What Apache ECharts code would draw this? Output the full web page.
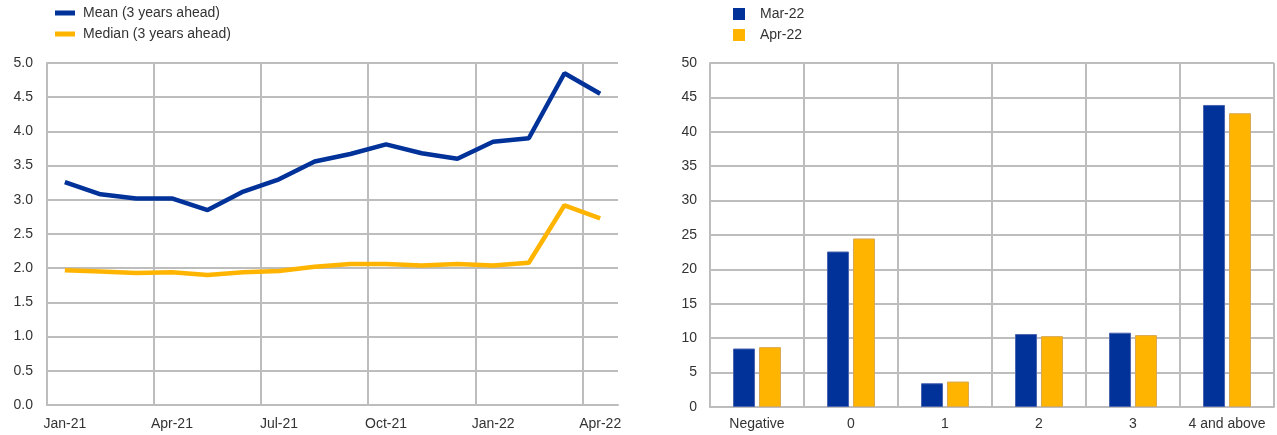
<!DOCTYPE html>
<html>
  <head>
    <meta charset="utf-8">
    <title>ECharts</title>
    <style type="text/css">
    html,body{margin:0;padding:0;background:#fff;}
    #main{width:1277px;height:435px;}
    </style>
    <script src="https://cdn.jsdelivr.net/npm/echarts@6/dist/echarts.min.js"></script>
  </head>
  <body>
    <div id="main"></div>
    <script type="text/javascript">
      // left panel: monthly expectations
      var months = ['Jan-21','Feb-21','Mar-21','Apr-21','May-21','Jun-21','Jul-21','Aug-21',
                    'Sep-21','Oct-21','Nov-21','Dec-21','Jan-22','Feb-22','Mar-22','Apr-22'];
      var meanVals   = [3.26,3.08,3.02,3.02,2.85,3.12,3.30,3.56,3.67,3.81,3.68,3.60,3.85,3.90,4.85,4.55];
      var medianVals = [1.97,1.95,1.93,1.94,1.90,1.94,1.96,2.02,2.06,2.06,2.04,2.06,2.04,2.08,2.92,2.73];

      // right panel: distribution
      var buckets = ['Negative','0','1','2','3','4 and above'];
      var mar22 = [8.5,22.6,3.45,10.6,10.8,43.9];
      var apr22 = [8.7,24.5,3.7,10.3,10.45,42.7];

      var blue = '#003299', yellow = '#ffb400';
      var gridCol = '#bdbdbd';
      var txt = {color:'#333', fontSize:14, fontFamily:'Liberation Sans, Arial, sans-serif'};

      var chart = echarts.init(document.getElementById('main'));
      var option = {
        animation:false,
        textStyle:{fontFamily:'Liberation Sans, Arial, sans-serif'},
        legend:[
          {
            orient:'vertical', left:50, top:1, itemGap:7,
            icon:'rect', itemWidth:20, itemHeight:5,
            textStyle:{color:'#333', fontSize:14, padding:[0,0,0,3]},
            data:['Mean (3 years ahead)','Median (3 years ahead)']
          },
          {
            orient:'vertical', left:728, top:2, itemGap:7,
            icon:'rect', itemWidth:12, itemHeight:12,
            itemStyle:{borderWidth:0},
            textStyle:{color:'#333', fontSize:14, padding:[0,0,0,10]},
            data:['Mar-22','Apr-22']
          }
        ],
        grid:[
          {left:47, right:659, top:63, bottom:30},
          {left:710, right:3, top:63, bottom:28}
        ],
        xAxis:[
          {
            type:'category', gridIndex:0, data:months, boundaryGap:true,
            axisLine:{lineStyle:{color:gridCol, width:2}},
            axisTick:{show:false},
            axisLabel:Object.assign({interval:2, margin:12}, txt),
            splitLine:{show:true, interval:2, showMaxLine:false, lineStyle:{color:gridCol, width:2}}
          },
          {
            type:'category', gridIndex:1, data:buckets, boundaryGap:true,
            axisLine:{lineStyle:{color:gridCol, width:2}},
            axisTick:{show:false},
            axisLabel:Object.assign({interval:0, margin:10}, txt),
            splitLine:{show:true, interval:0, lineStyle:{color:gridCol, width:2}}
          }
        ],
        yAxis:[
          {
            type:'value', gridIndex:0, min:0, max:5, interval:0.5,
            axisLine:{show:true, lineStyle:{color:gridCol, width:2}},
            axisTick:{show:false},
            axisLabel:Object.assign({margin:14, formatter:function(v){return v.toFixed(1);}}, txt),
            splitLine:{lineStyle:{color:gridCol, width:2}}
          },
          {
            type:'value', gridIndex:1, min:0, max:50, interval:5,
            axisLine:{show:true, lineStyle:{color:gridCol, width:2}},
            axisTick:{show:false},
            axisLabel:Object.assign({margin:13}, txt),
            splitLine:{lineStyle:{color:gridCol, width:2}}
          }
        ],
        series:[
          {
            name:'Mean (3 years ahead)', type:'line', xAxisIndex:0, yAxisIndex:0,
            data:meanVals, showSymbol:false, color:blue,
            lineStyle:{width:4.5, color:blue}
          },
          {
            name:'Median (3 years ahead)', type:'line', xAxisIndex:0, yAxisIndex:0,
            data:medianVals, showSymbol:false, color:yellow,
            lineStyle:{width:4.5, color:yellow}
          },
          {
            name:'Mar-22', type:'bar', xAxisIndex:1, yAxisIndex:1,
            data:mar22, barWidth:22, barGap:'18%', color:blue,
            itemStyle:{color:blue, borderColor:'#4a64b0', borderWidth:1}
          },
          {
            name:'Apr-22', type:'bar', xAxisIndex:1, yAxisIndex:1,
            data:apr22, barWidth:22, barGap:'18%', color:yellow,
            itemStyle:{color:yellow, borderColor:'#d9a850', borderWidth:1}
          }
        ]
      };
      chart.setOption(option);
    </script>
  </body>
</html>
